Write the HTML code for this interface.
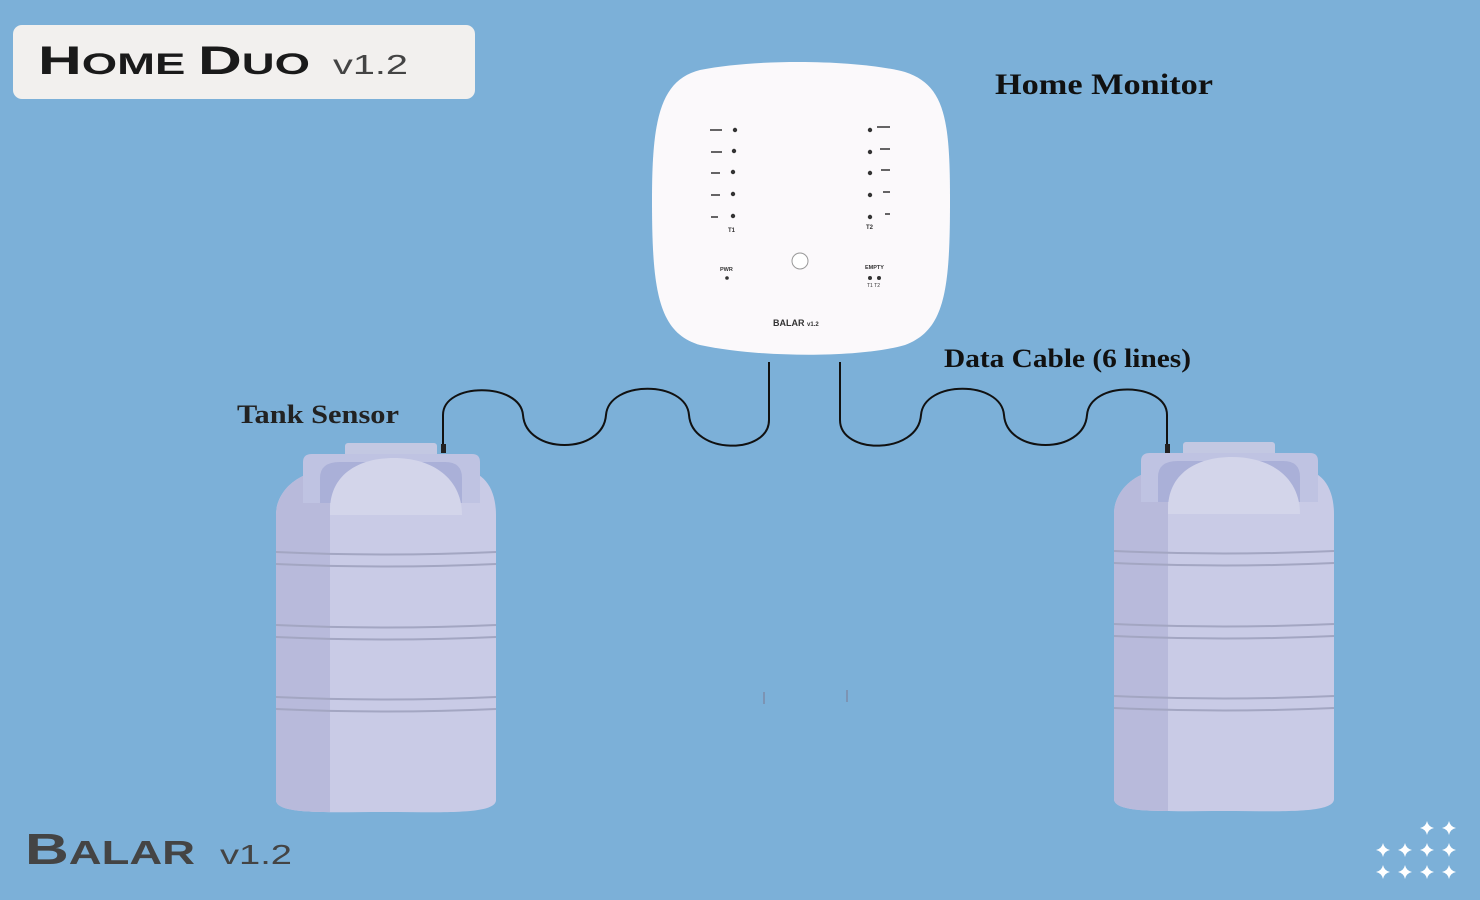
<!DOCTYPE html>
<html><head><meta charset="utf-8"><style>
html,body{margin:0;padding:0;background:#7cb0d8;}
svg{display:block}
</style></head><body>
<svg width="1480" height="900" viewBox="0 0 1480 900" xmlns="http://www.w3.org/2000/svg">
<rect width="1480" height="900" fill="#7cb0d8"/>
<rect x="13" y="25" width="462" height="74" rx="9" fill="#f2f0ee"/>
<text x="38" y="74" font-family="Liberation Sans, sans-serif" font-weight="bold" fill="#1a1a1a" textLength="272" lengthAdjust="spacingAndGlyphs"><tspan font-size="40">H</tspan><tspan font-size="30">OME </tspan><tspan font-size="40">D</tspan><tspan font-size="30">UO</tspan></text>
<text x="333" y="74" font-family="Liberation Sans, sans-serif" font-size="28" fill="#444" textLength="75" lengthAdjust="spacingAndGlyphs">v1.2</text>

<text x="25" y="864" font-family="Liberation Sans, sans-serif" font-weight="bold" fill="#444" textLength="170" lengthAdjust="spacingAndGlyphs"><tspan font-size="44">B</tspan><tspan font-size="33">ALAR</tspan></text>
<text x="220" y="864" font-family="Liberation Sans, sans-serif" font-size="28" fill="#444" textLength="72" lengthAdjust="spacingAndGlyphs">v1.2</text>

<g fill="#fff">
<path id="sp" d="M0,-7 Q1.2,-1.2 7,0 Q1.2,1.2 0,7 Q-1.2,1.2 -7,0 Q-1.2,-1.2 0,-7Z" transform="translate(1427,828)"/>
<use href="#sp" x="22" y="0"/>
<use href="#sp" x="-44" y="22"/><use href="#sp" x="-22" y="22"/><use href="#sp" x="0" y="22"/><use href="#sp" x="22" y="22"/>
<use href="#sp" x="-44" y="44"/><use href="#sp" x="-22" y="44"/><use href="#sp" x="0" y="44"/><use href="#sp" x="22" y="44"/>
</g>

<text x="995" y="94" font-family="Liberation Serif, serif" font-weight="bold" font-size="30" fill="#111" textLength="218" lengthAdjust="spacingAndGlyphs">Home Monitor</text>
<text x="944" y="367" font-family="Liberation Serif, serif" font-weight="bold" font-size="26" fill="#111" textLength="247" lengthAdjust="spacingAndGlyphs">Data Cable (6 lines)</text>
<text x="237" y="423" font-family="Liberation Serif, serif" font-weight="bold" font-size="26" fill="#222" textLength="162" lengthAdjust="spacingAndGlyphs">Tank Sensor</text>

<g fill="none" stroke="#111" stroke-width="2">
<path d="M443,448 L443,415 C443,382 520,382 523,415 C526,455 603,455 606,415 C609,380 686,380 689,415 C692,455 769,455 769,420 L769,362"/>
<path d="M840,362 L840,420 C840,455 918,455 921,415 C924,380 1001,380 1004,415 C1007,455 1084,455 1087,415 C1090,380 1167,382 1167,415 L1167,448"/>
</g>
<rect x="441" y="444" width="5" height="9" fill="#222"/>
<rect x="1165" y="444" width="5" height="9" fill="#222"/>
<g stroke="#7d8aa8" stroke-width="1.5"><line x1="764" y1="692" x2="764" y2="704"/><line x1="847" y1="690" x2="847" y2="702"/></g>

<path d="M700,70 C760,58 860,60 905,72 C945,85 950,120 950,200 C950,290 945,330 905,345 C860,358 760,358 700,345 C658,333 652,290 652,200 C652,120 660,80 700,70Z" fill="#fbf9fb"/>
<g fill="#333">
<g stroke="#333" stroke-width="1.5">
<line x1="710" y1="130" x2="722" y2="130"/><line x1="711" y1="152" x2="722" y2="152"/><line x1="711" y1="173" x2="720" y2="173"/><line x1="711" y1="195" x2="720" y2="195"/><line x1="711" y1="217" x2="718" y2="217"/>
<line x1="877" y1="127" x2="890" y2="127"/><line x1="880" y1="149" x2="890" y2="149"/><line x1="881" y1="170" x2="890" y2="170"/><line x1="883" y1="192" x2="890" y2="192"/><line x1="885" y1="214" x2="890" y2="214"/>
</g>
<circle cx="735" cy="130" r="2.2"/><circle cx="734" cy="151" r="2.2"/><circle cx="733" cy="172" r="2.2"/><circle cx="733" cy="194" r="2.2"/><circle cx="733" cy="216" r="2.2"/>
<circle cx="870" cy="130" r="2.2"/><circle cx="870" cy="152" r="2.2"/><circle cx="870" cy="173" r="2.2"/><circle cx="870" cy="195" r="2.2"/><circle cx="870" cy="217" r="2.2"/>
<circle cx="727" cy="278" r="1.8"/><circle cx="870" cy="278" r="2"/><circle cx="879" cy="278" r="2"/>
<text x="728" y="232" font-family="Liberation Sans, sans-serif" font-size="6" font-weight="bold">T1</text>
<text x="866" y="229" font-family="Liberation Sans, sans-serif" font-size="6" font-weight="bold">T2</text>
<text x="720" y="271" font-family="Liberation Sans, sans-serif" font-size="5.5" font-weight="bold">PWR</text>
<text x="865" y="269" font-family="Liberation Sans, sans-serif" font-size="5.5" font-weight="bold">EMPTY</text>
<text x="867" y="287" font-family="Liberation Sans, sans-serif" font-size="5">T1 T2</text>
<text x="773" y="326" font-family="Liberation Sans, sans-serif" font-size="9" font-weight="bold">BALAR <tspan font-size="6">v1.2</tspan></text>
</g>
<circle cx="800" cy="261" r="8" fill="#fff" stroke="#999" stroke-width="1"/>

<defs>
<g id="tank">
<rect x="345" y="443" width="92" height="15" rx="3" fill="#c3c8e2"/>
<path d="M276,515 C276,490 300,470 330,470 L460,470 C485,470 496,490 496,515 L496,800 C496,815 440,812 386,812 C330,812 276,815 276,800Z" fill="#c9cbe6"/>
<path d="M276,515 C276,490 300,470 330,470 L330,812 C300,812 276,810 276,800Z" fill="#b8badb"/>
<path d="M303,462 Q303,454 312,454 L472,454 Q480,454 480,462 L480,503 L303,503Z" fill="#bfc3e2"/>
<path d="M320,503 L320,478 Q320,462 340,462 L445,462 Q462,462 462,478 L462,503Z" fill="#aab0d8"/>
<path d="M330,515 L330,510 C330,475 358,458 394,458 C432,458 462,478 462,515Z" fill="#d3d5ea"/>
<g stroke="#a3a6c2" stroke-width="2" fill="none">
<path d="M276,552 Q386,557 496,552"/><path d="M276,564 Q386,569 496,564"/>
<path d="M276,625 Q386,630 496,625"/><path d="M276,637 Q386,642 496,637"/>
<path d="M276,697 Q386,702 496,697"/><path d="M276,709 Q386,714 496,709"/>
</g>
</g>
</defs>
<use href="#tank"/>
<use href="#tank" x="838" y="-1"/>
</svg>
</body></html>
